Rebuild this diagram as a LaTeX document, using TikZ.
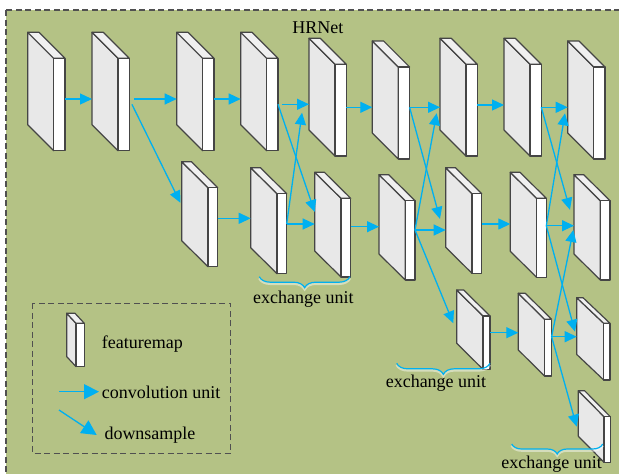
\documentclass[tikz,border=0pt]{standalone}
\usepackage{fontspec}
\setmainfont{Liberation Serif}
\usetikzlibrary{arrows.meta,calc,decorations.pathreplacing}

\definecolor{panelgreen}{HTML}{B4C285}
\definecolor{flowblue}{HTML}{00B0F0}
\definecolor{sideface}{HTML}{E8E8E8}
\definecolor{topface}{HTML}{F0F0F0}
\definecolor{edgegray}{HTML}{454545}
\definecolor{dashgray}{HTML}{505050}

% A feature map drawn as a thin slab:
% #1 name, #2 x, #3 y (top-left of the side face), #4 height,
% #5 depth dx, #6 depth dy, #7 front width, #8 y of the input, #9 y of the output
\newcommand\featmap[9]{%
  \coordinate (#1-nw) at (#2,#3);
  \coordinate (#1-sw) at (#2,#3+#4);
  \coordinate (#1-ne) at (#2+#5+#7,#3+#6);
  \coordinate (#1-se) at (#2+#5+#7,#3+#6+#4);
  \coordinate (#1-in) at (#2,#8);
  \coordinate (#1-out) at (#2+#5+#7,#9);
  \filldraw[mapline, fill=sideface] (#2,#3) -- (#2+#5,#3+#6) -- (#2+#5,#3+#6+#4) -- (#2,#3+#4) -- cycle;
  \filldraw[mapline, fill=topface] (#2,#3) -- (#2+#7,#3) -- (#2+#5+#7,#3+#6) -- (#2+#5,#3+#6) -- cycle;
  \filldraw[mapline, fill=white] (#2+#5,#3+#6) rectangle (#2+#5+#7,#3+#6+#4);
}

\tikzset{
  mapline/.style={draw=edgegray, line width=1.2pt, line join=round},
  conv/.style={draw=flowblue, line width=1.3pt, -{Triangle[length=12pt,width=11pt]}},
  legendarrow/.style={draw=flowblue, line width=1.3pt, -{Triangle[length=15pt,width=15pt]}},
  lbl/.style={inner sep=0pt, text=black},
  unitbrace/.style={draw=flowblue, line width=1.2pt, decorate,
    decoration={brace, mirror, amplitude=#1}},
  braceglow/.style={draw=white, opacity=0.45, line width=2.6pt, decorate,
    decoration={brace, mirror, amplitude=#1}},
  dashedbox/.style={draw=dashgray, line width=1.3pt, dash pattern=on 6pt off 3.5pt},
}

\begin{document}
\begin{tikzpicture}[x=1pt, y=-1pt, font=\fontsize{18}{21}\selectfont]
\useasboundingbox (0,0) rectangle (619,474);
\fill[white] (0,0) rectangle (619,474);

% outer panel
\begin{scope}
  \clip (0,0) rectangle (619,474);
  \filldraw[dashedbox, fill=panelgreen] (6,10) rectangle (640,500);
\end{scope}

\node[lbl, anchor=base] (title) at (317.8,33.3) {HRNet};

% high-resolution branch
\featmap{A1}{27.7}{32.3}{92.4}{26}{26}{11.3}{99}{99}
\featmap{A2}{92}{32.3}{92.4}{26}{26}{11.3}{99}{99}
\featmap{A3}{176.7}{32.3}{92.4}{26}{26}{11.3}{99}{99}
\featmap{A4}{240.7}{32.3}{92.4}{26}{26}{11.3}{99}{104.3}
\featmap{A5}{309}{38.3}{91.7}{26}{26}{11.3}{104.3}{107.3}
\featmap{A6}{372.3}{41}{92}{26}{26}{11.3}{107.3}{107.3}
\featmap{A7}{440}{38.3}{91.7}{26}{26}{11.3}{107.3}{105}
\featmap{A8}{504}{38.3}{91.7}{26}{26}{11.3}{105}{107.3}
\featmap{A9}{567.7}{41}{92}{26}{26}{11.3}{107.3}{107.3}

% second branch
\featmap{B1}{181.7}{161.7}{79}{26.3}{26}{9.7}{218.3}{218.3}
\featmap{B2}{250.7}{167.7}{80}{26.3}{26}{9.7}{218.3}{224}
\featmap{B3}{314.7}{172.3}{78.7}{26.3}{26}{9.7}{224}{226.7}
\featmap{B4}{379}{174.7}{79.3}{26.3}{26}{9.7}{226.7}{230}
\featmap{B5}{445.7}{167.7}{79.6}{26.3}{26}{9.7}{230}{224}
\featmap{B6}{510.3}{172.3}{79}{26.3}{26}{9.7}{224}{225.7}
\featmap{B7}{574}{174.7}{79.3}{26.3}{26}{9.7}{225.7}{225.7}

% third branch
\featmap{C1}{456.7}{290}{53.3}{26.3}{26}{7}{332.7}{332.7}
\featmap{C2}{518.3}{293.3}{56.7}{26.3}{26}{7}{332.7}{336.7}
\featmap{C3}{576.7}{297.7}{56.7}{27}{25.6}{6.3}{336.7}{336.7}

% fourth branch
\featmap{D1}{578.3}{390.7}{45.5}{25.7}{26}{6.3}{420}{420}

% convolution units
\draw[conv] (A1-out) -- (A2-in);
\draw[conv, shorten <=5pt] (A2-out) -- (A3-in);
\draw[conv] (A3-out) -- (A4-in);
\draw[conv, shorten <=4pt] (A4-out) -- (A5-in);
\draw[conv] (A5-out) -- (A6-in);
\draw[conv] (A6-out) -- (A7-in);
\draw[conv] (A7-out) -- (A8-in);
\draw[conv] (A8-out) -- (A9-in);
\draw[conv] (B1-out) -- (B2-in);
\draw[conv] (B2-out) -- (B3-in);
\draw[conv] (B3-out) -- (B4-in);
\draw[conv] (B4-out) -- (B5-in);
\draw[conv] (B5-out) -- (B6-in);
\draw[conv] (B6-out) -- (B7-in);
\draw[conv] (C1-out) -- (C2-in);
\draw[conv] (C2-out) -- (C3-in);

% downsampling into the second branch
\draw[conv, shorten <=6pt, shorten >=3pt] (A2-out) -- ($(B1-nw)!0.554!(B1-sw)$);

% first exchange unit
\draw[conv] (A4-out) -- ($(B3-nw)!0.504!(B3-sw)$);
\draw[conv, shorten >=51pt] (B2-out) -- ($(A5-nw)!0.26!(A5-sw)$);

% second exchange unit
\draw[conv, shorten >=21.8pt] (A6-out) -- ($(B5-nw)!0.908!(B5-sw)$);
\draw[conv, shorten >=18pt] (B4-out) -- ($(A7-nw)!0.624!(A7-sw)$);
\draw[conv, shorten >=9pt] (B4-out) -- ($(C1-nw)!0.78!(C1-sw)$);

% third exchange unit
\draw[conv, shorten >=15pt] (A8-out) -- ($(B7-nw)!0.625!(B7-sw)$);
\draw[conv, shorten >=16.4pt] (B6-out) -- ($(A9-nw)!0.61!(A9-sw)$);
\draw[conv, shorten >=6.5pt] (B6-out) -- ($(C3-nw)!0.71!(C3-sw)$);
\draw[conv, shorten >=3.5pt] (C2-out) -- ($(B7-nw)!0.654!(B7-sw)$);
\draw[conv, shorten >=6pt] (C2-out) -- ($(D1-nw)!0.917!(D1-sw)$);

% exchange unit braces
\draw[braceglow=11] (259.3,278.2) -- (350,278.2);
\draw[unitbrace=11] (259.3,276.7) -- (350,276.7);
\node[lbl, anchor=base] (unitA) at (303.3,303.3) {exchange unit};

\draw[braceglow=11] (396.7,364.8) -- (490,364.8);
\draw[unitbrace=11] (396.7,363.3) -- (490,363.3);
\node[lbl, anchor=base] (unitB) at (436,387.5) {exchange unit};

\draw[braceglow=10] (511.7,445.5) -- (602.7,445.5);
\draw[unitbrace=10] (511.7,444) -- (602.7,444);
\node[lbl, anchor=base] (unitC) at (551.7,468) {exchange unit};

% legend
\draw[dashedbox] (32.7,303.3) rectangle (230.7,453.3);
\featmap{L}{66.7}{313.3}{43.3}{9.3}{10}{8.3}{340}{340}
\node[lbl, anchor=base west] (lgmap) at (101.7,348.3) {featuremap};
\coordinate (convS) at (59,391.7);
\coordinate (convE) at (99,391.7);
\draw[legendarrow] (convS) -- (convE);
\node[lbl, anchor=base west] (lgconv) at (101.7,398.3) {convolution unit};
\coordinate (downS) at (59,410);
\coordinate (downE) at (96.7,435);
\draw[legendarrow] (downS) -- (downE);
\node[lbl, anchor=base west] (lgdown) at (104.3,439.3) {downsample};
\end{tikzpicture}
\end{document}
